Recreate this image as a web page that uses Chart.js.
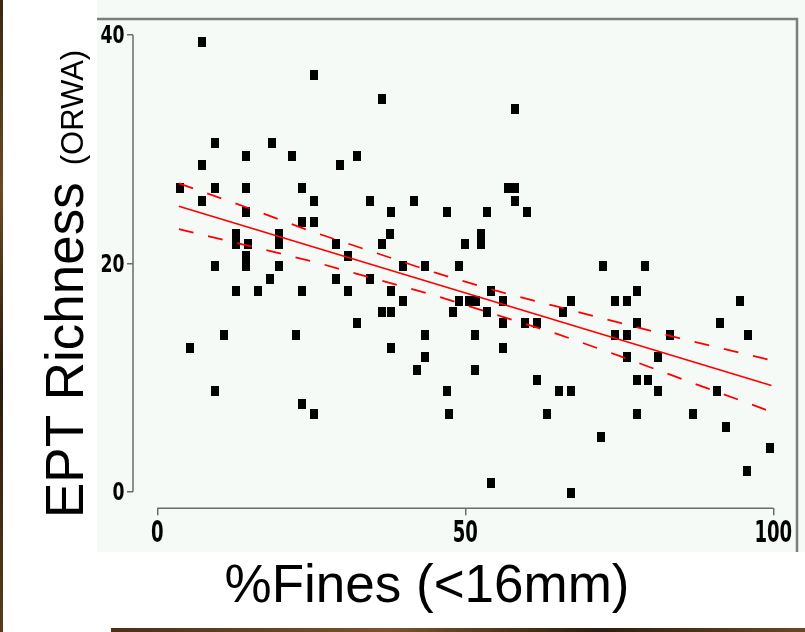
<!DOCTYPE html>
<html>
<head>
<meta charset="utf-8">
<script src="https://cdn.jsdelivr.net/npm/chart.js@4.4.1/dist/chart.umd.min.js"></script>
<style>
  html, body { margin: 0; padding: 0; background: #fff; }
</style>
</head>
<body>
<canvas id="grafico" width="805" height="632"></canvas>
<script>
// % fines (x) and EPT richness (y)
const fines = [
  7.3,
  25.4,
  36.4,
  58.1,
  9.3, 18.6,
  14.4, 21.8, 32.5,
  7.3, 29.6,
  3.7, 9.3, 14.4, 23.5, 56.9, 58.1,
  7.3, 25.4, 34.5, 41.6, 58.1,
  14.4, 38.0, 47.1, 53.6, 60.0,
  23.5, 25.4,
  12.8, 19.8, 37.7, 52.6,
  12.8, 14.8, 19.8, 29.0, 36.4, 50.0, 52.6,
  14.4, 30.9,
  9.3, 14.4, 19.8, 39.9, 43.5, 49.0, 72.3, 79.1,
  18.3, 29.0, 34.5,
  12.8, 16.4, 23.5, 30.9, 38.0, 54.2, 77.8,
  39.9, 49.0, 50.6, 51.7, 56.2, 67.1, 74.3, 76.2, 94.6,
  36.4, 38.0, 48.0, 53.6, 65.8,
  32.5, 56.2, 59.7, 61.6, 77.8, 91.4,
  10.9, 22.5, 43.5, 51.6, 74.3, 76.2, 83.3, 95.9,
  5.3, 38.0, 56.2,
  43.5, 76.2, 81.3,
  42.2, 51.6,
  61.6, 77.8, 79.7,
  9.3, 47.1, 65.2, 67.1, 81.3, 90.8,
  23.5,
  25.4, 47.4, 63.2, 77.8, 86.9,
  92.4,
  72.0,
  99.4,
  95.7,
  54.2,
  67.1
];
const ept = [
  39.4,
  36.5,
  34.4,
  33.5,
  30.5, 30.5,
  29.4, 29.4, 29.4,
  28.6, 28.6,
  26.6, 26.6, 26.6, 26.6, 26.6, 26.6,
  25.5, 25.5, 25.5, 25.5, 25.5,
  24.5, 24.5, 24.5, 24.5, 24.5,
  23.6, 23.6,
  22.6, 22.6, 22.6, 22.6,
  21.7, 21.7, 21.7, 21.7, 21.7, 21.7, 21.7,
  20.6, 20.6,
  19.8, 19.8, 19.8, 19.8, 19.8, 19.8, 19.8, 19.8,
  18.6, 18.6, 18.6,
  17.6, 17.6, 17.6, 17.6, 17.6, 17.6, 17.6,
  16.7, 16.7, 16.7, 16.7, 16.7, 16.7, 16.7, 16.7, 16.7,
  15.7, 15.7, 15.7, 15.7, 15.7,
  14.8, 14.8, 14.8, 14.8, 14.8, 14.8,
  13.7, 13.7, 13.7, 13.7, 13.7, 13.7, 13.7, 13.7,
  12.6, 12.6, 12.6,
  11.8, 11.8, 11.8,
  10.7, 10.7,
  9.8, 9.8, 9.8,
  8.8, 8.8, 8.8, 8.8, 8.8, 8.8,
  7.7,
  6.8, 6.8, 6.8, 6.8, 6.8,
  5.7,
  4.8,
  3.8,
  1.8,
  0.8,
  -0.1
];

// regression line and its confidence band (dashed)
const fitX = [3.5, 99.7];
const fitY = [25.0, 9.3];
const ciX = [3.5, 15, 25, 35, 45, 55, 65, 75, 85, 99.7];
const ciUpper = [27.0, 24.8, 22.8, 21.0, 19.2, 17.6, 16.2, 14.8, 13.4, 11.5];
const ciLower = [23.0, 21.5, 20.2, 18.7, 17.2, 15.5, 13.8, 11.9, 9.9, 7.0];

const xTicks = [0, 50, 100];
const yTicks = [0, 20, 40];

const toXY = (xs, ys) => xs.map((x, i) => ({ x: x, y: ys[i] }));

// small black rectangle used as the marker
const marca = document.createElement('canvas');
marca.width = 8;
marca.height = 10;
const mctx = marca.getContext('2d');
mctx.fillStyle = '#000';
mctx.fillRect(0, 0, 8, 10);

const tickFamily = "'DejaVu Sans Condensed', 'DejaVu Sans', sans-serif";

// draws a narrow, tall tick label (the original uses a condensed bitmap font)
function rotuloEstreito(c, texto, x, y, size, digitW, align) {
  c.save();
  c.font = 'bold ' + size + 'px ' + tickFamily;
  const w = c.measureText(texto).width;
  const sx = (digitW * texto.length) / w;
  c.translate(x, y);
  c.scale(sx, 1);
  c.textAlign = align;
  c.textBaseline = 'alphabetic';
  c.fillStyle = '#000';
  c.fillText(texto, 0, 0);
  c.restore();
}

// background, panel, frame, axis lines, tick labels and titles
const decoracao = {
  id: 'decoracao',
  beforeDraw(chart) {
    const c = chart.ctx;
    const a = chart.chartArea;
    c.save();
    c.fillStyle = '#ffffff';
    c.fillRect(0, 0, chart.width, chart.height);
    // dark textured edges
    const g1 = c.createLinearGradient(0, 0, 0, chart.height);
    g1.addColorStop(0, '#3b2812');
    g1.addColorStop(0.3, '#6b4a22');
    g1.addColorStop(0.6, '#2a1a0c');
    g1.addColorStop(1, '#5a3c1c');
    c.fillStyle = g1;
    c.fillRect(0, 0, 3, chart.height);
    const g2 = c.createLinearGradient(111, 0, chart.width, 0);
    g2.addColorStop(0, '#4a3018');
    g2.addColorStop(0.4, '#7a5428');
    g2.addColorStop(0.7, '#2e1e0e');
    g2.addColorStop(1, '#6a4822');
    c.fillStyle = g2;
    c.fillRect(111, 628, chart.width - 111, 4);
    // light panel
    c.fillStyle = '#f5faf6';
    c.fillRect(97, 0, chart.width - 97, 552);
    // frame: top and right
    c.strokeStyle = '#7d7d7d';
    c.lineWidth = 2.5;
    c.beginPath();
    c.moveTo(97, a.top);
    c.lineTo(a.right, a.top);
    c.lineTo(a.right, 552);
    c.stroke();
    c.restore();
  },
  beforeDatasetsDraw(chart) {
    const c = chart.ctx;
    const a = chart.chartArea;
    const xs = chart.scales.x;
    const ys = chart.scales.y;
    c.save();
    c.strokeStyle = '#6b6b6b';
    c.lineWidth = 1.5;
    c.beginPath();
    c.moveTo(a.left, ys.getPixelForValue(Math.max(...yTicks)));
    c.lineTo(a.left, ys.getPixelForValue(Math.min(...yTicks)));
    c.moveTo(xs.getPixelForValue(Math.min(...xTicks)), a.bottom);
    c.lineTo(xs.getPixelForValue(Math.max(...xTicks)), a.bottom);
    c.stroke();
    c.restore();
  },
  afterDraw(chart) {
    const c = chart.ctx;
    const a = chart.chartArea;
    const xs = chart.scales.x;
    const ys = chart.scales.y;
    // tick labels
    xs.ticks.forEach(t => {
      rotuloEstreito(c, String(t.value), xs.getPixelForValue(t.value), a.bottom + 33.5, 30, 12.6, 'center');
    });
    ys.ticks.forEach(t => {
      rotuloEstreito(c, String(t.value), a.left - 8.5, ys.getPixelForValue(t.value) + 8.4, 25, 12, 'right');
    });
    c.save();
    c.fillStyle = '#000';
    c.textBaseline = 'alphabetic';
    // y title, rotated
    c.translate(83, 518);
    c.rotate(-Math.PI / 2);
    c.textAlign = 'left';
    c.font = "53px 'Liberation Sans', Arial, sans-serif";
    c.fillText('EPT Richness', 0, 0);
    const w = c.measureText('EPT Richness').width;
    c.font = "31px 'Liberation Sans', Arial, sans-serif";
    c.fillText('(ORWA)', w + 17, 0);
    c.restore();
    // x title
    c.save();
    c.fillStyle = '#000';
    c.textAlign = 'center';
    c.textBaseline = 'alphabetic';
    c.font = "53px 'Liberation Sans', Arial, sans-serif";
    c.fillText('%Fines (<16mm)', 427, 602);
    c.restore();
  }
};

const ctx = document.getElementById('grafico').getContext('2d');

const grafico = new Chart(ctx, {
  type: 'scatter',
  data: {
    datasets: [
      {
        label: 'EPT',
        data: toXY(fines, ept),
        pointStyle: marca,
        pointRadius: 5,
        order: 2
      },
      {
        label: 'fit',
        data: toXY(fitX, fitY),
        showLine: true,
        borderColor: '#ff0000',
        borderWidth: 1.8,
        pointRadius: 0,
        order: 1
      },
      {
        label: 'upper',
        data: toXY(ciX, ciUpper),
        showLine: true,
        borderColor: '#ff0000',
        borderWidth: 1.8,
        borderDash: [15, 15],
        pointRadius: 0,
        order: 1
      },
      {
        label: 'lower',
        data: toXY(ciX, ciLower),
        showLine: true,
        borderColor: '#ff0000',
        borderWidth: 1.8,
        borderDash: [15, 15],
        pointRadius: 0,
        order: 1
      }
    ]
  },
  options: {
    responsive: false,
    animation: false,
    layout: { padding: { left: 0, top: 19, right: 8, bottom: 83.7 } },
    plugins: {
      legend: { display: false },
      tooltip: { enabled: false }
    },
    scales: {
      x: {
        type: 'linear',
        position: 'bottom',
        min: -3.945,
        max: 103.85,
        afterBuildTicks: s => { s.ticks = xTicks.map(v => ({ value: v })); },
        afterFit: s => { s.height = 40; },
        ticks: { display: false },
        grid: { drawOnChartArea: false, drawTicks: true, tickLength: 7, color: '#6b6b6b', lineWidth: 1.5 },
        border: { display: false }
      },
      y: {
        type: 'linear',
        min: -1.454,
        max: 41.4,
        afterBuildTicks: s => { s.ticks = yTicks.map(v => ({ value: v })); },
        afterFit: s => { s.width = 133; },
        ticks: { display: false },
        grid: { drawOnChartArea: false, drawTicks: true, tickLength: 6, color: '#6b6b6b', lineWidth: 1.5 },
        border: { display: false }
      }
    }
  },
  plugins: [decoracao]
});
</script>
</body>
</html>
